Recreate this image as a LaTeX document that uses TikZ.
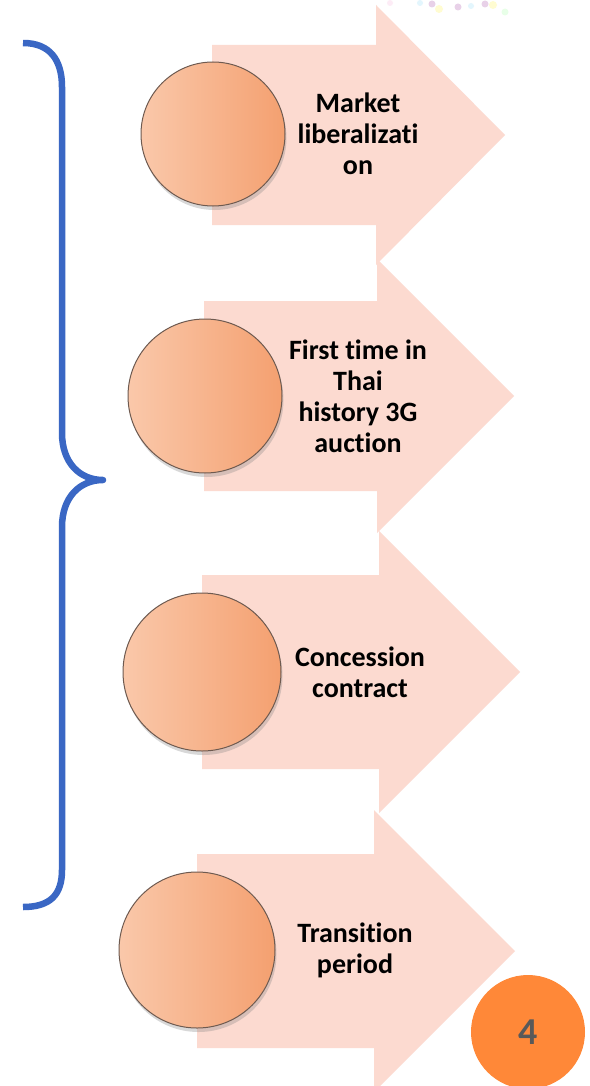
\documentclass[tikz,border=0pt]{standalone}
\usepackage{fontspec}
\setmainfont{Carlito}[Ligatures=NoCommon]
\usetikzlibrary{shadows}

\definecolor{arrowpink}{RGB}{252,218,208}
\definecolor{ballleft}{RGB}{250,200,170}
\definecolor{ballright}{RGB}{244,160,112}
\definecolor{ballrim}{RGB}{110,90,80}
\definecolor{braceblue}{RGB}{58,103,196}
\definecolor{pageorange}{RGB}{255,136,56}
\definecolor{pagegray}{RGB}{89,89,89}

\begin{document}
\begin{tikzpicture}[x=1pt,y=-1pt,
    arrowbg/.style={fill=arrowpink},
    ball/.style={circle, draw=ballrim, line width=1pt, left color=ballleft, right color=ballright,
        drop shadow={shadow xshift=1.5pt, shadow yshift=-4pt, opacity=0.3}},
    steplabel/.style={align=center, font=\bfseries\fontsize{28}{31}\selectfont},
    dot/.style={opacity=0.18}]
        \useasboundingbox (0,0) rectangle (589,1086);
        \fill[white] (0,0) rectangle (589,1086);

        % Confetti in the corner
        \fill[dot, magenta!40] (390,3) circle (3);
        \fill[dot, cyan!60] (420,3) circle (3);
        \fill[dot, violet] (432,4) circle (3.5);
        \fill[dot, yellow] (439,9) circle (4);
        \fill[dot, violet] (458,7) circle (3.5);
        \fill[dot, cyan!60] (471,6) circle (3);
        \fill[dot, violet] (485,4) circle (3.5);
        \fill[dot, yellow] (493,5) circle (4);
        \fill[dot, green!50] (505,12) circle (3.5);

        % Draw arrows
        \fill[arrowbg] (212,45) -- (376,45) -- (376,5) -- (505,135) -- (376,265) -- (376,225) -- (212,225) -- cycle;
        \fill[arrowbg] (204,301) -- (377,301) -- (377,259) -- (514,396) -- (377,533) -- (377,491) -- (204,491) -- cycle;
        \fill[arrowbg] (202,575) -- (379,575) -- (379,531) -- (520,672) -- (379,813) -- (379,769) -- (202,769) -- cycle;
        \fill[arrowbg] (197,854) -- (374,854) -- (374,810) -- (515,951) -- (374,1092) -- (374,1048) -- (197,1048) -- cycle;

        % Define the circles
        \node[ball, minimum size=144pt] (C1) at (213,134) {};
        \node[ball, minimum size=154pt] (C2) at (205,396) {};
        \node[ball, minimum size=158pt] (C3) at (202,672) {};
        \node[ball, minimum size=156pt] (C4) at (197,950) {};

        % Define the labels
        \node[steplabel] (T1) at (358,134) {Market\\liberalizati\\on};
        \node[steplabel] (T2) at (358,396) {First time in\\Thai\\history 3G\\auction};
        \node[steplabel] (T3) at (360,672) {Concession\\contract};
        \node[steplabel] (T4) at (355,950) {Transition\\period};

        % Draw the brace
        \draw[braceblue, line width=6.5pt, line join=round]
            (23,43) .. controls (50,43) and (62,60) .. (62,87) -- (62,433)
            .. controls (62,463) and (80,480) .. (103,480)
            .. controls (80,480) and (62,497) .. (62,527) -- (62,870)
            .. controls (62,895) and (50,907) .. (23,907);

        % Page number
        \node[circle, fill=pageorange, minimum size=114pt, text=pagegray,
            font=\bfseries\fontsize{38}{38}\selectfont] (N4) at (528,1032) {4};
    \end{tikzpicture}
\end{document}
